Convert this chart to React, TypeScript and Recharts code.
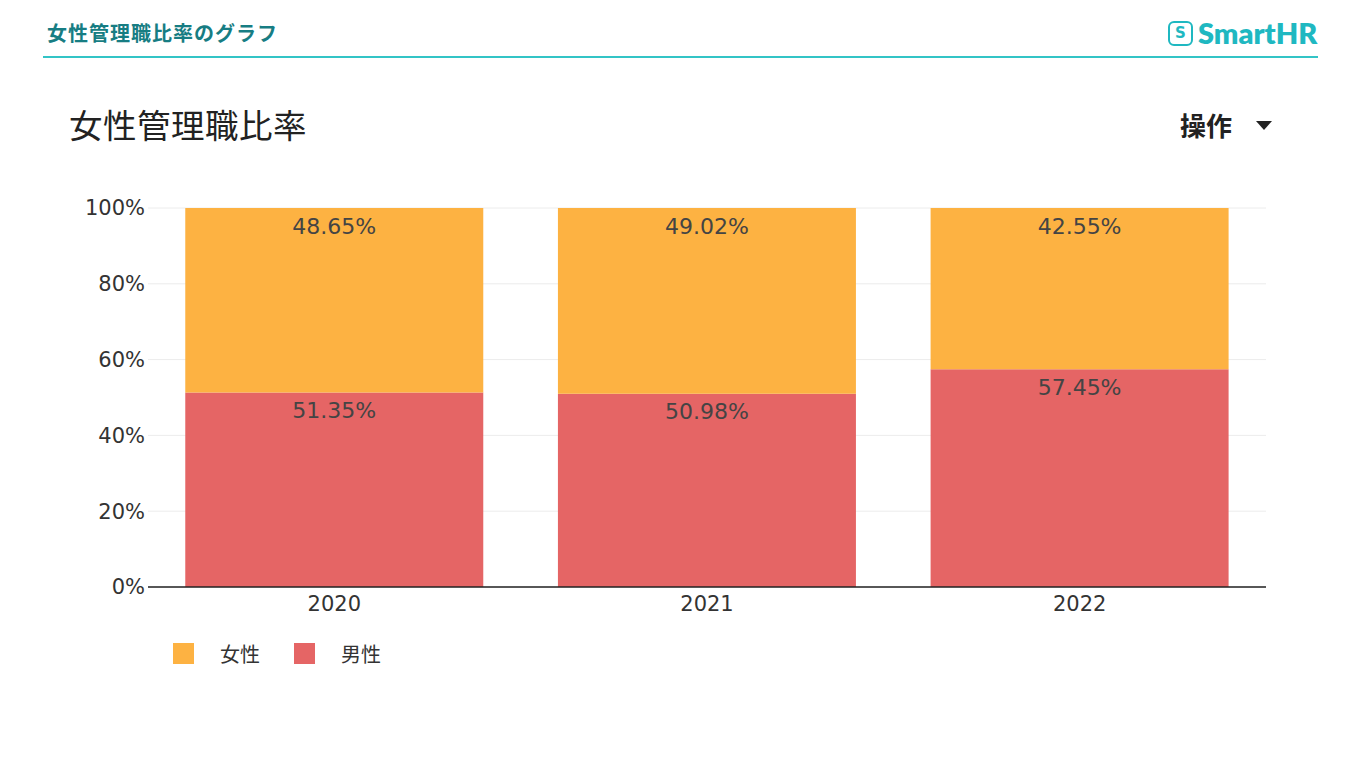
import React from 'react';
import { BarChart, Bar, XAxis, YAxis, CartesianGrid, LabelList } from 'recharts';

const years = ['2020', '2021', '2022'];
const femaleRatio = [48.65, 49.02, 42.55];
const maleRatio = [51.35, 50.98, 57.45];
const yTicks = [0, 20, 40, 60, 80, 100];

const SERIES = [
  { key: 'female', name: '女性', color: '#FDB242' },
  { key: 'male', name: '男性', color: '#E56565' },
];

const data = years.map((year, i) => ({ year, female: femaleRatio[i], male: maleRatio[i] }));

const FONT = '"DejaVu Sans", "Noto Sans CJK JP", sans-serif';
const JP = '"Noto Sans CJK JP", "Noto Sans", sans-serif';

const pct = (v: any) => `${Number(v).toFixed(2)}%`;

const App: React.FC = () => {
  return (
    <div style={{ position: 'absolute', left: 0, top: 0, width: 1360, height: 765, background: '#fff', fontFamily: JP }}>
      {/* header */}
      <div style={{ position: 'absolute', left: 47, top: 19, fontSize: 20, fontWeight: 700, color: '#177D83', letterSpacing: 1, lineHeight: '28px' }}>
        女性管理職比率のグラフ
      </div>
      <div style={{ position: 'absolute', left: 43, top: 56, width: 1275, height: 2, background: '#33C4C6' }} />
      <div style={{ position: 'absolute', left: 1168, top: 18, display: 'flex', alignItems: 'center', color: '#1FB8C1' }}>
        <div style={{ width: 21, height: 21, border: '2.5px solid #1FB8C1', borderRadius: 6, display: 'flex', alignItems: 'center', justifyContent: 'center', fontSize: 15, fontWeight: 700, fontFamily: '"DejaVu Sans", sans-serif' }}>S</div>
        <div style={{ marginLeft: 5, fontSize: 29, fontWeight: 800, fontFamily: 'Lato, "Open Sans", sans-serif', lineHeight: '30px' }}>SmartHR</div>
      </div>

      {/* title */}
      <div style={{ position: 'absolute', left: 69, top: 102, fontSize: 33.5, color: '#222', fontFamily: JP, lineHeight: '44px', letterSpacing: 0.5 }}>女性管理職比率</div>
      <div style={{ position: 'absolute', left: 1180, top: 107, fontSize: 26, fontWeight: 700, color: '#222', display: 'flex', alignItems: 'center', lineHeight: '36px' }}>
        操作
        <span style={{ marginLeft: 24, width: 0, height: 0, borderLeft: '8px solid transparent', borderRight: '8px solid transparent', borderTop: '9px solid #222' }} />
      </div>

      {/* chart */}
      <div style={{ position: 'absolute', left: 0, top: 180 }}>
        <BarChart width={1360} height={520} data={data} barCategoryGap="10%" margin={{ top: 28, right: 94, bottom: 83, left: 78 }}>
          <CartesianGrid horizontal vertical={false} stroke="#ECECEC" />
          <XAxis
            dataKey="year"
            tickLine={false}
            axisLine={{ stroke: '#222', strokeWidth: 1.5 }}
            height={30}
            tickMargin={3}
            tick={{ fill: '#333', fontSize: 21, fontFamily: FONT }}
          />
          <YAxis
            domain={[0, 100]}
            ticks={yTicks}
            width={70}
            tickLine={false}
            axisLine={false}
            tickSize={0}
            tickMargin={3}
            tickFormatter={(v) => `${v}%`}
            tick={{ fill: '#333', fontSize: 21, fontFamily: FONT }}
          />
          <Bar dataKey="male" name="男性" stackId="a" fill={SERIES[1].color} isAnimationActive={false}>
            <LabelList dataKey="male" position="insideTop" offset={10} formatter={pct} fill="#444" fontSize={22} fontFamily={FONT} />
          </Bar>
          <Bar dataKey="female" name="女性" stackId="a" fill={SERIES[0].color} isAnimationActive={false}>
            <LabelList dataKey="female" position="insideTop" offset={10} formatter={pct} fill="#444" fontSize={22} fontFamily={FONT} />
          </Bar>
        </BarChart>
      </div>

      {/* legend */}
      <div style={{ position: 'absolute', left: 173, top: 639, display: 'flex', alignItems: 'center', fontSize: 20, color: '#333' }}>
        {SERIES.map((s) => (
          <div key={s.key} style={{ display: 'flex', alignItems: 'center', marginRight: 34 }}>
            <span style={{ width: 21, height: 21, background: s.color, display: 'inline-block' }} />
            <span style={{ marginLeft: 26 }}>{s.name}</span>
          </div>
        ))}
      </div>
    </div>
  );
};

export default App;
